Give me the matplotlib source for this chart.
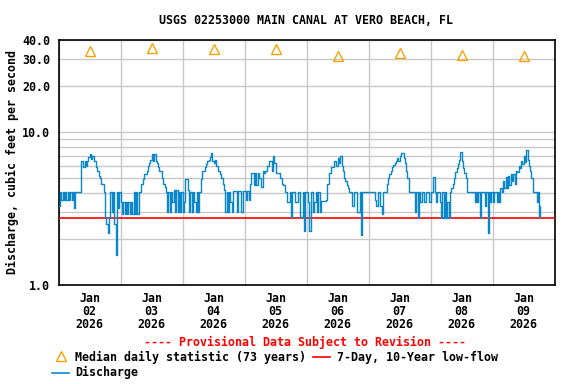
import numpy as np
import pandas as pd
import matplotlib
matplotlib.use('Agg')
import matplotlib.pyplot as plt
import matplotlib.dates as mdates
from matplotlib.lines import Line2D
from matplotlib.ticker import FixedLocator, NullFormatter, FormatStrFormatter

plt.rcParams['font.family'] = 'DejaVu Sans Mono'
plt.rcParams['font.weight'] = 'bold'
plt.rcParams['font.size'] = 8.4

# half-hourly discharge (cfs), starting 2026-01-02 00:00
day_02 = [3.3, 4.05, 3.6, 4.05, 3.6, 4.05, 3.6, 4.05, 3.6, 4.05, 3.6, 4.05,
          3.2, 4.05, 4.05, 4.05, 4.05, 6.5, 6.5, 5.9, 6.5, 6.0, 6.5, 6.9,
          7.2, 6.7, 7.0, 6.5, 6.5, 5.9, 5.6, 5.2, 5.0, 4.6, 4.6, 4.05,
          2.8, 2.5, 2.2, 2.8, 4.05, 3.0, 4.05, 2.5, 1.57, 4.05, 3.2, 4.05]
day_03 = [3.5, 2.9, 3.5, 2.9, 3.5, 2.9, 3.5, 2.9, 3.5, 2.9, 4.05, 2.9,
          4.05, 2.9, 4.05, 4.05, 4.6, 4.9, 5.3, 5.3, 5.6, 6.0, 6.3, 6.6,
          7.2, 6.5, 7.2, 6.5, 6.3, 5.9, 5.6, 5.6, 5.0, 4.6, 4.4, 4.05,
          3.0, 4.05, 3.0, 4.05, 3.5, 4.2, 3.0, 4.2, 3.0, 4.05, 3.0, 4.05]
day_04 = [3.0, 3.5, 4.9, 4.9, 4.2, 3.0, 4.05, 3.0, 4.05, 3.5, 3.0, 4.05,
          3.0, 4.05, 4.9, 5.6, 5.6, 5.9, 6.2, 6.5, 6.6, 6.9, 7.3, 6.5,
          6.3, 6.6, 6.0, 5.6, 5.6, 5.3, 5.0, 4.6, 4.2, 3.0, 4.05, 3.0,
          4.05, 3.5, 3.0, 4.1, 4.1, 4.1, 3.0, 4.1, 4.1, 3.0, 3.0, 4.1]
day_05 = [4.1, 3.6, 4.1, 3.6, 4.6, 5.4, 5.4, 4.5, 5.4, 4.5, 5.4, 5.0,
          5.0, 4.4, 5.6, 5.4, 5.6, 6.0, 6.0, 6.5, 6.5, 5.6, 7.0, 6.3,
          5.4, 5.4, 5.4, 5.0, 5.0, 4.6, 4.5, 4.05, 4.05, 3.5, 3.5, 4.05,
          2.8, 4.05, 4.05, 3.5, 3.5, 4.05, 4.05, 2.8, 2.8, 4.05, 2.25, 4.05]
day_06 = [4.05, 3.5, 2.25, 4.05, 4.05, 3.0, 3.5, 4.05, 3.0, 4.05, 3.0, 3.55,
          3.55, 3.55, 3.55, 3.6, 4.6, 5.4, 5.4, 5.9, 5.9, 6.5, 6.5, 6.0,
          6.8, 6.3, 7.0, 6.0, 5.6, 5.0, 4.8, 4.5, 4.3, 4.05, 4.05, 3.3,
          3.3, 4.05, 4.05, 3.0, 3.0, 4.05, 2.12, 4.05, 4.05, 4.05, 4.05, 4.05]
day_07 = [4.05, 4.05, 4.05, 4.05, 4.05, 3.6, 3.3, 4.05, 4.05, 3.3, 2.9, 4.05,
          4.05, 4.05, 4.6, 5.0, 5.3, 5.6, 5.9, 6.1, 6.3, 6.5, 6.8, 6.5,
          7.0, 7.3, 7.3, 6.8, 6.3, 5.6, 5.0, 4.05, 4.05, 4.05, 4.05, 4.05,
          3.0, 4.05, 2.75, 4.05, 3.5, 4.05, 4.05, 3.5, 4.05, 4.05, 4.05, 3.5]
day_08 = [4.05, 4.05, 5.1, 4.05, 3.5, 4.05, 4.05, 3.5, 2.75, 4.05, 2.75, 4.05,
          2.75, 3.5, 2.75, 4.05, 4.3, 4.6, 5.0, 5.5, 5.8, 6.2, 6.6, 7.4,
          6.5, 5.8, 5.4, 5.0, 4.05, 4.05, 4.05, 4.05, 4.05, 4.05, 3.5, 4.05,
          3.5, 4.05, 2.75, 4.05, 4.05, 4.05, 3.3, 4.05, 2.19, 4.05, 3.5, 4.05]
day_09 = [3.5, 4.05, 4.05, 3.5, 4.05, 3.5, 4.3, 4.05, 4.8, 4.3, 5.1, 4.3,
          5.2, 4.5, 5.3, 4.8, 5.3, 4.6, 5.6, 5.5, 6.0, 5.8, 6.5, 6.2,
          7.0, 6.4, 7.6, 6.6, 6.0, 5.6, 5.0, 4.05, 4.05, 4.05, 3.5, 4.05,
          2.8, 3.3]

discharge = day_02 + day_03 + day_04 + day_05 + day_06 + day_07 + day_08 + day_09
times = pd.date_range('2026-01-02 00:00', periods=len(discharge), freq='30min')

median_days = pd.date_range('2026-01-02 12:00', periods=8, freq='D')
median_values = [33.8, 35.7, 34.9, 34.9, 31.5, 32.8, 31.7, 31.5]

low_flow = 2.73

blue = '#0a86cc'
orange = '#f5a300'
red = '#ff0000'

fig = plt.figure(figsize=(5.76, 3.84), dpi=100)
ax = fig.add_axes([0.1019, 0.2578, 0.8611, 0.638])

ax.axhline(low_flow, color=red, lw=1.2, zorder=3)
ax.plot(times, discharge, color=blue, lw=1.0, drawstyle='steps-post', zorder=4)
ax.plot(median_days, median_values, ls='none', marker='^', ms=7, mfc='none',
        mec=orange, mew=1.0, zorder=5)

ax.set_yscale('log')
ax.set_ylim(1.0, 40.0)
ax.yaxis.set_major_locator(FixedLocator([1.0, 10.0, 20.0, 30.0, 40.0]))
ax.yaxis.set_major_formatter(FormatStrFormatter('%.1f'))
ax.yaxis.set_minor_locator(FixedLocator([2, 3, 4, 5, 6, 7, 8, 9]))
ax.yaxis.set_minor_formatter(NullFormatter())

ax.set_xlim(pd.Timestamp('2026-01-02'), pd.Timestamp('2026-01-10'))
ax.xaxis.set_major_locator(mdates.DayLocator())
ax.xaxis.set_major_formatter(NullFormatter())
ax.xaxis.set_minor_locator(mdates.HourLocator(byhour=12))
ax.xaxis.set_minor_formatter(mdates.DateFormatter('%b\n%d\n%Y'))

ax.grid(True, which='major', color='#c8c8c8', lw=1.0)
ax.yaxis.grid(True, which='minor', color='#c8c8c8', lw=1.0)
ax.set_axisbelow(True)
ax.tick_params(which='both', length=0)
ax.tick_params(axis='y', pad=6)
ax.tick_params(axis='x', which='minor', pad=5)
for lab in ax.get_xticklabels(minor=True):
    lab.set_linespacing(1.0)
for sp in ax.spines.values():
    sp.set_linewidth(1.2)

fig.text(0.532, 0.947, 'USGS 02253000 MAIN CANAL AT VERO BEACH, FL',
         ha='center', va='center')
fig.text(0.021, 0.577, 'Discharge, cubic feet per second', rotation=90,
         ha='center', va='center')

fig.text(0.53, 0.107, '---- Provisional Data Subject to Revision ----',
         color=red, ha='center', va='center')

# legend
fig.add_artist(Line2D([60.7 / 576], [1 - 356 / 384], marker='^', ms=7, mfc='none',
                      mec=orange, mew=1.0, ls='none'))
fig.text(75 / 576, 1 - 357 / 384, 'Median daily statistic (73 years)', va='center')
fig.add_artist(Line2D([313 / 576, 330 / 576], [1 - 357 / 384] * 2, color=red, lw=1.2))
fig.text(337 / 576, 1 - 357 / 384, '7-Day, 10-Year low-flow', va='center')
fig.add_artist(Line2D([52 / 576, 69 / 576], [1 - 372.7 / 384] * 2, color=blue, lw=1.2))
fig.text(75 / 576, 1 - 372.7 / 384, 'Discharge', va='center')

fig.savefig('out.png', dpi=100)
